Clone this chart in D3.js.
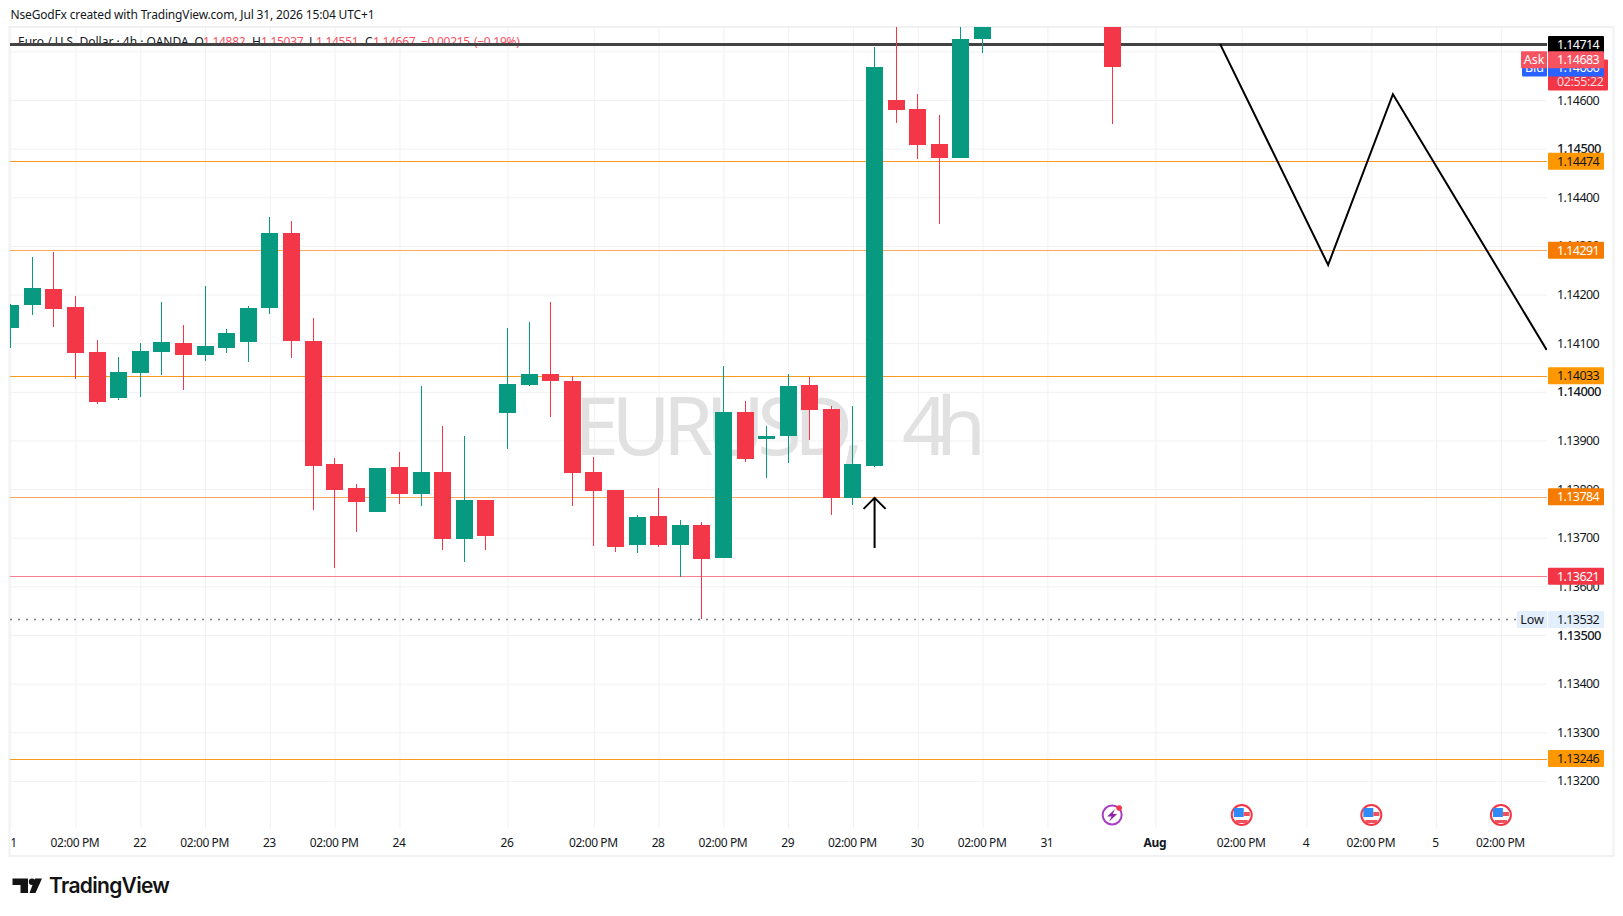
<!DOCTYPE html>
<html>
<head>
<meta charset="utf-8">
<script src="https://cdn.jsdelivr.net/npm/d3@7"></script>
<style>
  html, body { margin: 0; background: #fff; overflow: hidden; }
  text { font-family: "Noto Sans", sans-serif; fill: #131722; }
</style>
</head>
<body>
<svg id="chart" width="1623" height="916"></svg>
<script>
// candles (bars 46-50 sit above the visible pane)
const barIndex = [0,1,2,3,4,5,6,7,8,9,10,11,12,13,14,15,16,17,18,19,20,21,22,23,24,25,26,27,28,29,30,31,32,33,34,35,36,37,38,39,40,41,42,43,44,45,51];
const opens  = [1.14132,1.14178,1.14211,1.14174,1.14082,1.13987,1.14039,1.14082,1.14100,1.14076,1.14090,1.14102,1.14172,1.14327,1.14104,1.13851,1.13802,1.13753,1.13845,1.13790,1.13835,1.13697,1.13777,1.13956,1.14014,1.14037,1.14022,1.13835,1.13798,1.13685,1.13745,1.13685,1.13726,1.13658,1.13958,1.13903,1.13909,1.14014,1.13965,1.13782,1.13847,1.14600,1.14582,1.14510,1.14481,1.14726,1.14882];
const highs  = [1.14180,1.14277,1.14287,1.14197,1.14107,1.14072,1.14100,1.14185,1.14137,1.14218,1.14129,1.14176,1.14359,1.14351,1.14152,1.13864,1.13810,1.13843,1.13876,1.14012,1.13930,1.13909,1.13777,1.14131,1.14143,1.14185,1.14032,1.13866,1.13798,1.13747,1.13802,1.13736,1.13732,1.14053,1.13981,1.13930,1.14037,1.14030,1.13970,1.13971,1.14709,1.14775,1.14612,1.14569,1.14764,1.14800,1.15037];
const lows   = [1.14091,1.14158,1.14133,1.14026,1.13975,1.13983,1.13989,1.14035,1.14004,1.14063,1.14080,1.14061,1.14160,1.14069,1.13757,1.13638,1.13712,1.13753,1.13769,1.13765,1.13675,1.13650,1.13675,1.13882,1.14012,1.13948,1.13765,1.13683,1.13671,1.13668,1.13681,1.13619,1.13532,1.13658,1.13856,1.13823,1.13854,1.13901,1.13747,1.13768,1.13845,1.14553,1.14479,1.14345,1.14481,1.14697,1.14551];
const closes = [1.14178,1.14213,1.14170,1.14080,1.13979,1.14041,1.14084,1.14102,1.14076,1.14094,1.14121,1.14172,1.14327,1.14104,1.13847,1.13798,1.13773,1.13843,1.13790,1.13835,1.13697,1.13777,1.13703,1.14016,1.14037,1.14022,1.13833,1.13796,1.13681,1.13743,1.13685,1.13726,1.13656,1.13958,1.13862,1.13909,1.14012,1.13963,1.13782,1.13851,1.14668,1.14579,1.14507,1.14481,1.14726,1.14775,1.14667];

// axes
const priceTicks = [1.147,1.146,1.145,1.144,1.143,1.142,1.141,1.140,1.139,1.138,1.137,1.136,1.135,1.134,1.133,1.132];
const majorPriceTicks = [1.145,1.140,1.135];
const timeTickBars = [0,3,6,9,12,15,18,23,27,30,33,36,39,42,45,48,53,57,60,63,66,69];
const timeTickLabels = ["21","02:00 PM","22","02:00 PM","23","02:00 PM","24","26","02:00 PM","28","02:00 PM","29","02:00 PM","30","02:00 PM","31","Aug","02:00 PM","4","02:00 PM","5","02:00 PM"];

// horizontal levels drawn on the chart
const levelPrices = [1.14474,1.14291,1.14033,1.13784,1.13621,1.13246];
const levelKinds  = ["amber","deep","amber","deep","red","amber"];
const topLevel = 1.14714;
const lowPrice = 1.13532;
const askPrice = 1.14683, bidPrice = 1.14666, lastPrice = 1.14667;

// hand drawn annotations
const zigzagBars   = [56,61,64,71.12];
const zigzagPrices = [1.14715,1.14261,1.14612,1.14086];
const arrowBar = 40, arrowFrom = 1.13679, arrowTo = 1.13782;
const flagBars = [57,63,69];
const boltBar = 51;

// legend row
const legendParts = ["Euro / U.S. Dollar · 4h · OANDA","O","1.14882","H","1.15037","L","1.14551","C","1.14667","−0.00215","(−0.19%)"];
const legendStarts = [18,194.5,203,252,261,309,316,365,373,421,474];

const UP = "#089981", DOWN = "#f33748";
const GRID = "#f0f1f3";
const kindStyle = {
  amber: { line: "#f79a1f", box: "#ff9800", text: "#131722" },
  deep:  { line: "#f8ab5e", box: "#f57c00", text: "#ffffff" },
  red:   { line: "#f7808c", box: "#f23645", text: "#ffffff" }
};

const pane = { left: 10, right: 1547, top: 27, bottom: 828 };
const svg = d3.select("#chart");

const x = d3.scaleLinear().domain([0, 69]).range([10.7, 1500.9]);
const y = d3.scaleLinear().domain([1.146, 1.135]).range([100, 635]);
const crispX = v => Math.floor(x(v)) + 0.5;

// frame
svg.append("rect")
  .attr("x", 9.5).attr("y", 27).attr("width", 1604).attr("height", 829)
  .attr("fill", "#fff").attr("stroke", "#f0f1f3").attr("stroke-width", 2);

const defs = svg.append("defs");
defs.append("clipPath").attr("id", "paneClip").append("rect")
  .attr("x", pane.left).attr("y", pane.top)
  .attr("width", pane.right - pane.left).attr("height", pane.bottom - pane.top);
defs.append("clipPath").attr("id", "timeClip").append("rect")
  .attr("x", pane.left + 1.5).attr("y", pane.top)
  .attr("width", 1600).attr("height", 830);

// grid comes with the axes
const priceAxis = svg.append("g")
  .attr("transform", `translate(${pane.right},0)`)
  .call(d3.axisRight(y)
    .tickValues(priceTicks)
    .tickFormat(d3.format(".5f"))
    .tickSize(-(pane.right - pane.left))
    .tickPadding(10));
priceAxis.select(".domain").remove();
priceAxis.selectAll("line").attr("stroke", GRID);
priceAxis.selectAll("text")
  .style("font-family", '"Noto Sans", sans-serif')
  .style("font-size", d => majorPriceTicks.includes(d) ? "13px" : "12.5px")
  .style("font-weight", d => majorPriceTicks.includes(d) ? "500" : "400")
  .style("letter-spacing", "-0.6px")
  .attr("fill", "#131722");

const timeAxis = svg.append("g").attr("clip-path", "url(#timeClip)")
  .append("g")
  .attr("transform", `translate(0,${pane.bottom})`)
  .call(d3.axisBottom(x)
    .tickValues(timeTickBars)
    .tickFormat((d, i) => timeTickLabels[i])
    .tickSize(-(pane.bottom - pane.top))
    .tickPadding(10));
timeAxis.select(".domain").remove();
timeAxis.selectAll("line").attr("stroke", GRID);
timeAxis.selectAll("text")
  .attr("dx", -1)
  .style("font-family", '"Noto Sans", sans-serif')
  .style("font-size", "12px")
  .style("letter-spacing", "-0.4px")
  .style("font-weight", d => timeTickLabels[timeTickBars.indexOf(d)] === "Aug" ? "700" : "400")
  .attr("fill", "#131722");

// heading above the pane
svg.append("text")
  .attr("x", 10.5).attr("y", 19)
  .attr("font-size", 12)
  .attr("textLength", 364)
  .text("NseGodFx created with TradingView.com, Jul 31, 2026 15:04 UTC+1");

// watermark, in two pieces so the gap before the interval matches
const mark = svg.append("text")
  .attr("y", 455)
  .attr("font-size", 81)
  .style("fill", "#e1e1e1");
mark.append("tspan").attr("x", 574).attr("textLength", 290).text("EURUSD,");
mark.append("tspan").attr("x", 902).attr("textLength", 84).text("4h");

// legend row sits under the dark level line
svg.append("g").selectAll("text")
  .data(legendParts)
  .enter()
  .append("text")
  .attr("x", (d, i) => legendStarts[i])
  .attr("y", 46)
  .attr("font-size", 12)
  .style("letter-spacing", (d, i) => i === 0 ? "0" : "-0.3px")
  .style("fill", (d, i) => (i === 0 || i % 2 === 1) && i < 9 ? "#131722" : "#f7525f")
  .text(d => d);

const marks = svg.append("g").attr("clip-path", "url(#paneClip)");

// level lines
marks.selectAll(".level")
  .data(levelPrices)
  .enter()
  .append("line")
  .attr("class", "level")
  .attr("x1", pane.left).attr("x2", pane.right)
  .attr("y1", d => Math.round(y(d)) + 0.5)
  .attr("y2", d => Math.round(y(d)) + 0.5)
  .attr("stroke", (d, i) => kindStyle[levelKinds[i]].line);

marks.append("line")
  .attr("x1", pane.left).attr("x2", pane.right)
  .attr("y1", Math.round(y(topLevel)) - 0.5).attr("y2", Math.round(y(topLevel)) - 0.5)
  .attr("stroke", "#434343").attr("stroke-width", 3);

marks.append("line")
  .attr("x1", pane.left).attr("x2", 1517)
  .attr("y1", y(lowPrice)).attr("y2", y(lowPrice))
  .attr("stroke", "#787b86").attr("stroke-width", 1.5)
  .attr("stroke-dasharray", "2 6");

// candles
const candles = marks.selectAll(".candle")
  .data(barIndex)
  .enter()
  .append("g")
  .attr("class", "candle")
  .attr("fill", (d, i) => closes[i] >= opens[i] ? UP : DOWN);

candles.append("rect")
  .attr("x", d => crispX(d) - 0.5)
  .attr("width", 1)
  .attr("y", (d, i) => Math.round(y(highs[i])))
  .attr("height", (d, i) => Math.round(y(lows[i])) - Math.round(y(highs[i])));

candles.append("rect")
  .attr("x", d => crispX(d) - 8.5)
  .attr("width", 17)
  .attr("y", (d, i) => Math.round(y(Math.max(opens[i], closes[i]))))
  .attr("height", (d, i) => Math.round(y(Math.min(opens[i], closes[i]))) - Math.round(y(Math.max(opens[i], closes[i]))));

// zigzag projection
marks.append("path")
  .attr("d", d3.line().x(d => x(d)).y((d, i) => y(zigzagPrices[i]))(zigzagBars))
  .attr("fill", "none").attr("stroke", "#000").attr("stroke-width", 2);

// arrow under the breakout bar
const ax = x(arrowBar), tip = y(arrowTo);
marks.append("path")
  .attr("d", `M${ax},${y(arrowFrom)}L${ax},${tip}M${ax - 11},${tip + 11}L${ax},${tip}L${ax + 11},${tip + 11}`)
  .attr("fill", "none").attr("stroke", "#000").attr("stroke-width", 2);

// events row
const bolt = svg.append("g").attr("transform", `translate(${x(boltBar)},815)`);
bolt.append("circle").attr("r", 9.5).attr("fill", "#fff").attr("stroke", "#a63ec4").attr("stroke-width", 2);
bolt.append("path").attr("d", "M3,-6L-5,1.5L-0.5,1.5L-3,6.5L5,-1L0.5,-1Z").attr("fill", "#8e24aa");
bolt.append("circle").attr("cx", 7).attr("cy", -7).attr("r", 2.8).attr("fill", "#f23645");

const flags = svg.selectAll(".flag")
  .data(flagBars)
  .enter()
  .append("g")
  .attr("class", "flag")
  .attr("transform", d => `translate(${x(d)},815)`);
flags.append("circle").attr("r", 10).attr("fill", "#fff").attr("stroke", "#f23645").attr("stroke-width", 2);
flags.append("rect").attr("x", -8).attr("y", -7).attr("width", 10).attr("height", 9).attr("fill", "#2f8af5");
flags.append("rect").attr("x", 2).attr("y", -3).attr("width", 6).attr("height", 4).attr("fill", "#f0505c");
flags.append("rect").attr("x", -6).attr("y", 5).attr("width", 12).attr("height", 3).attr("fill", "#f0505c");

// price tags on the right scale
function priceTag(yPos, text, box, color, left = 1548, right = 1604, h = 17) {
  const g = svg.append("g");
  g.append("rect")
    .attr("x", left).attr("y", yPos - h / 2)
    .attr("width", right - left).attr("height", h)
    .attr("rx", 1).attr("fill", box);
  g.append("text")
    .attr("x", left === 1548 ? 1557 : (left + right) / 2)
    .attr("y", yPos).attr("dy", "0.35em")
    .attr("text-anchor", left === 1548 ? "start" : "middle")
    .attr("font-size", 12.5)
    .style("letter-spacing", left === 1548 ? "-0.6px" : "0")
    .style("fill", color)
    .text(text);
}

levelPrices.forEach((p, i) => {
  const s = kindStyle[levelKinds[i]];
  priceTag(y(p), d3.format(".5f")(p), s.box, s.text);
});
priceTag(y(topLevel), d3.format(".5f")(topLevel), "#000", "#fff");
priceTag(y(lowPrice), d3.format(".5f")(lowPrice), "#e3effd", "#131722");
priceTag(y(lowPrice), "Low", "#e3effd", "#131722", 1517, 1547);

// last price block: red tag with countdown, then bid and ask over it
svg.append("rect")
  .attr("x", 1548).attr("y", y(lastPrice) - 8)
  .attr("width", 60).attr("height", 31)
  .attr("rx", 1).attr("fill", "#f23645");
svg.append("text")
  .attr("x", 1557).attr("y", y(lastPrice) + 14).attr("dy", "0.35em")
  .attr("font-size", 12.5)
  .style("letter-spacing", "-0.4px")
  .style("fill", "#ffd9dd")
  .text("02:55:22");
priceTag(y(bidPrice), d3.format(".5f")(bidPrice), "#2962ff", "#fff");
priceTag(y(bidPrice), "Bid", "#2962ff", "#fff", 1522, 1547);
priceTag(y(askPrice), d3.format(".5f")(askPrice), "#f7525f", "#fff");
priceTag(y(askPrice), "Ask", "#f7525f", "#fff", 1521, 1547);

// brand
const logo = svg.append("g").attr("fill", "#131313");
logo.append("path").attr("d", "M12.5,878.5H28V893H20.5V885H12.5Z");
logo.append("circle").attr("cx", 32).attr("cy", 881.8).attr("r", 3.2);
logo.append("path").attr("d", "M35,878.5H42L35.5,893H29.5Z");
svg.append("text")
  .attr("x", 49).attr("y", 893)
  .attr("font-size", 21)
  .attr("textLength", 121)
  .style("font-family", "Inter, sans-serif")
  .style("font-weight", 600)
  .style("fill", "#131313")
  .text("TradingView");
</script>
</body>
</html>
